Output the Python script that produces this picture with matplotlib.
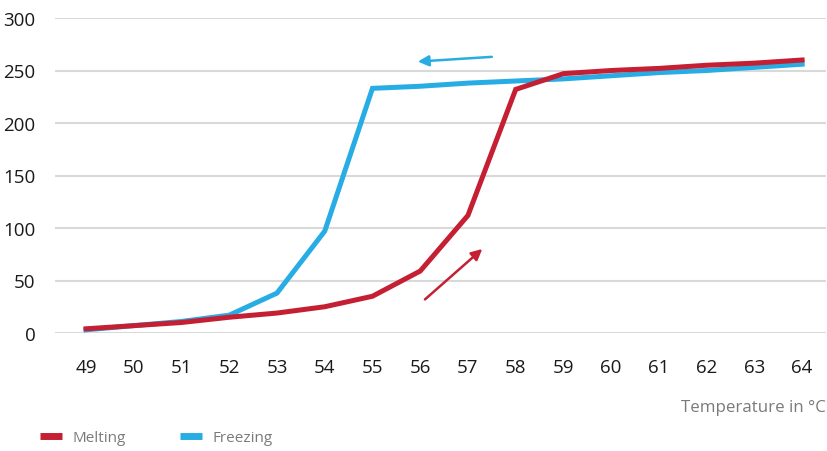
import numpy as np
import matplotlib.pyplot as plt
from matplotlib.lines import Line2D

# Data
temperature = [49, 50, 51, 52, 53, 54, 55, 56, 57, 58, 59, 60, 61, 62, 63, 64]
melting = [4, 7, 10, 15, 19, 25, 35, 59, 112, 232, 247, 250, 252, 255, 257, 260]
freezing = [3, 7, 11, 17, 38, 97, 233, 235, 238, 240, 242, 245, 248, 250, 253, 256]
y_ticks = [0, 50, 100, 150, 200, 250, 300]

# Direction arrows (data coords: tail -> head)
freeze_arrow = ((57.5, 263), (55.95, 258.5))
melt_arrow = ((56.1, 32), (57.3, 80))

RED = "#c51f33"
BLUE = "#27ade4"
GRID = "#d9d9d9"
TEXT = "#1a1a1a"
GREY = "#7a7a7a"

plt.rcParams['font.family'] = ['Open Sans', 'DejaVu Sans']

fig = plt.figure(figsize=(8.28, 4.52), dpi=100)
ax = fig.add_axes([55 / 828, (452 - 334) / 452, (826 - 55) / 828, (334 - 19) / 452])

ax.plot(temperature, freezing, color=BLUE, linewidth=3.6, solid_joinstyle='miter',
        clip_on=False, zorder=3)
ax.plot(temperature, melting, color=RED, linewidth=3.6, solid_joinstyle='miter',
        clip_on=False, zorder=4)

ax.annotate("", xy=freeze_arrow[1], xytext=freeze_arrow[0],
            arrowprops=dict(arrowstyle="-|>", color=BLUE, lw=1.8,
                            mutation_scale=16, shrinkA=0, shrinkB=0))
ax.annotate("", xy=melt_arrow[1], xytext=melt_arrow[0],
            arrowprops=dict(arrowstyle="-|>", color=RED, lw=1.8,
                            mutation_scale=16, shrinkA=0, shrinkB=0))

ax.set_xlim(48.35, 64.5)
ax.set_ylim(0, 300)
ax.set_xticks(temperature)
ax.set_yticks(y_ticks)
ax.tick_params(axis='both', length=0, labelsize=13.5, labelcolor=TEXT)
ax.tick_params(axis='x', pad=18)
ax.tick_params(axis='y', pad=14)
ax.yaxis.grid(True, color=GRID, linewidth=1.5)
ax.set_axisbelow(True)
for s in ax.spines.values():
    s.set_visible(False)

fig.text(826 / 828, 1 - 408 / 452, "Temperature in °C", ha='right', va='center',
         fontsize=12.2, color=GREY)

handles = [Line2D([], [], color=RED, linewidth=5, solid_capstyle='butt'),
           Line2D([], [], color=BLUE, linewidth=5, solid_capstyle='butt')]
fig.legend(handles, ["Melting", "Freezing"], loc='center left',
           bbox_to_anchor=(26 / 828, 1 - 439 / 452), ncol=2, frameon=False,
           fontsize=11, labelcolor=GREY, handlelength=1.45, handletextpad=0.72,
           columnspacing=3.5)

fig.savefig("out.png", dpi=100)
